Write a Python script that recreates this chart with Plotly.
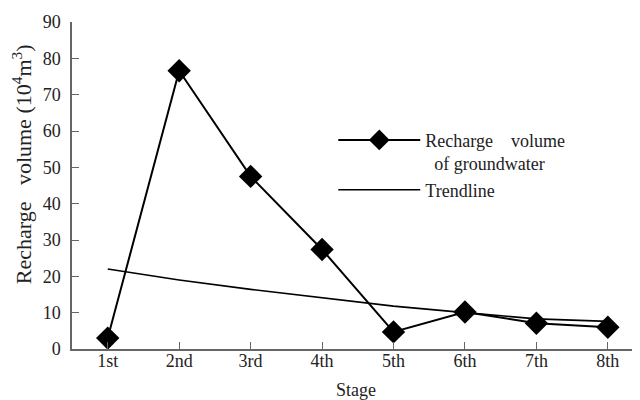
import plotly.graph_objects as go

stages = ["1st", "2nd", "3rd", "4th", "5th", "6th", "7th", "8th"]
recharge = [3.0, 76.6, 47.5, 27.4, 4.7, 10.2, 7.1, 6.0]
trend = [22.0, 19.0, 16.4, 14.0, 11.8, 10.0, 8.3, 7.6]
y_ticks = [0, 10, 20, 30, 40, 50, 60, 70, 80, 90]

font = "Liberation Serif, Times New Roman, serif"

fig = go.Figure()
fig.add_trace(go.Scatter(
    x=list(range(len(stages))), y=recharge, mode="lines+markers",
    name="Recharge    volume<br>  of groundwater", legendgroup="a",
    line=dict(color="black", width=2),
    marker=dict(symbol="diamond", size=18, color="black"),
))
fig.add_trace(go.Scatter(
    x=list(range(len(stages))), y=trend, mode="lines",
    name="Trendline", legendgroup="b",
    line=dict(color="black", width=1.6),
))

fig.update_layout(
    width=632, height=392,
    margin=dict(l=64, r=0, t=14, b=51),
    paper_bgcolor="white", plot_bgcolor="white",
    font=dict(family=font, size=18, color="#222"),
    showlegend=True,
    legend=dict(x=0.46, y=0.695, xanchor="left", yanchor="top",
                bgcolor="rgba(0,0,0,0)", itemwidth=82, valign="top",
                font=dict(size=18), tracegroupgap=0),
    xaxis=dict(
        range=[-0.5, 7.45], tickmode="array",
        tickvals=list(range(len(stages))), ticktext=stages,
        tickson="boundaries", ticks="inside", ticklen=7, tickcolor="#666",
        showline=True, linecolor="#666", linewidth=1.5,
        showgrid=False, zeroline=False, ticklabelstandoff=-5,
        automargin=False,
        title=dict(text="Stage", standoff=24, font=dict(size=18)),
        tickfont=dict(size=18),
    ),
    yaxis=dict(
        range=[0, 90], tickmode="array", tickvals=y_ticks,
        ticks="inside", ticklen=7, tickcolor="#666",
        showline=True, linecolor="#666", linewidth=1.5,
        showgrid=False, zeroline=False, ticklabelstandoff=6,
        tickfont=dict(size=18),
    ),
    annotations=[dict(
        text="Recharge   volume (10<sup>4</sup>m<sup>3</sup>)",
        xref="paper", yref="paper", x=-0.088, y=0.565,
        xanchor="center", yanchor="middle", textangle=-90,
        showarrow=False, font=dict(size=22, color="#222"),
    )],
)

fig.write_html("out.html")
